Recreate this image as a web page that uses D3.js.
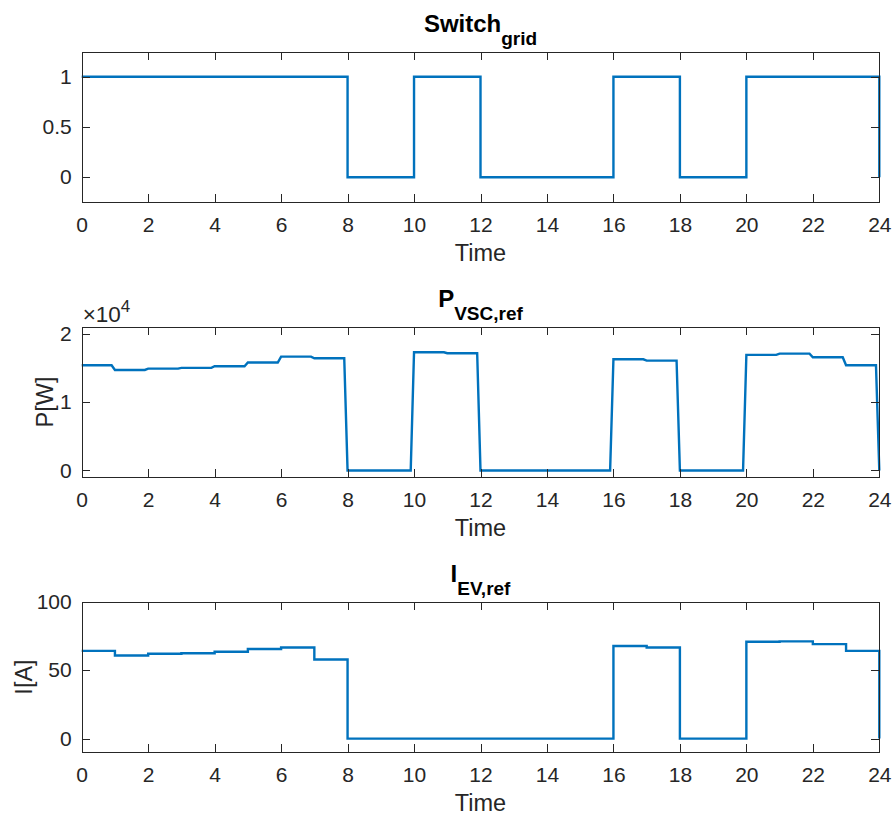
<!DOCTYPE html>
<html>
<head>
<meta charset="utf-8">
<script src="https://cdn.jsdelivr.net/npm/d3@7"></script>
<style>
  html, body { margin: 0; padding: 0; background: #fff; }
  svg { display: block; font-family: "Liberation Sans", Arial, Helvetica, sans-serif; }
</style>
</head>
<body>
<svg id="chart" width="893" height="815"></svg>
<script>
// ---------- data (hourly values, hour 0..23) ----------
const hours = d3.range(0, 24);
const xTicks = d3.range(0, 25, 2);

const switchGrid = [1,1,1,1,1,1,1,1, 0,0, 1,1, 0,0,0,0, 1,1, 0,0, 1,1,1,1];
const switchEnd = 0;

const pVscRef = [15370,14680,14880,14980,15220,15760,16630,16390,
                 0,0, 17270,17120, 0,0,0,0, 16240,16050, 0,0,
                 16880,17070,16540,15370];
const pEnd = 0;
const sampleStep = 0.1; // simulation sample interval (h)

const iEvRef = [64.1,60.7,62.0,62.4,63.4,65.4,66.6,57.8,
                0,0,0,0,0,0,0,0, 67.6,66.6, 0,0,
                70.7,71.0,69.0,64.1];
const iEnd = 0;

const switchYTicks = [0, 0.5, 1];
const pYTicks = [0, 10000, 20000];
const iYTicks = [0, 50, 100];

// ---------- layout ----------
const svg = d3.select("#chart");
const left = 81.7, right = 879.3;
const axH = 150.6;
const tops = [51.7, 326.7, 601.7];
const blue = "#0072BD";
const axisColor = "#262626";
const tickFont = 21, labelFont = 23.5, titleFont = 24, subFont = 19;

function panel(opts) {
  const top = opts.top, bottom = top + axH;
  const x = d3.scaleLinear().domain([0, 24]).range([left, right]);
  const y = d3.scaleLinear().domain(opts.yDomain).range([bottom, top]);
  const g = svg.append("g");

  // line
  const line = d3.line().x(d => x(d[0])).y(d => y(d[1])).curve(opts.curve);
  g.append("path").datum(opts.points)
    .attr("fill", "none").attr("stroke", blue).attr("stroke-width", 2.4)
    .attr("stroke-linejoin", "miter")
    .attr("d", line);

  // axes (ticks inward, box)
  const tl = 8;
  const bottomAxis = d3.axisBottom(x).tickValues(xTicks).tickSizeInner(-tl).tickSizeOuter(0).tickPadding(15);
  const topAxis = d3.axisTop(x).tickValues(xTicks).tickSizeInner(-tl).tickSizeOuter(0).tickFormat("");
  const leftAxis = d3.axisLeft(y).tickValues(opts.yTicks).tickSizeInner(-tl).tickSizeOuter(0).tickPadding(10)
    .tickFormat(opts.yFormat);
  const rightAxis = d3.axisRight(y).tickValues(opts.yTicks).tickSizeInner(-tl).tickSizeOuter(0).tickFormat("");

  const styleAxis = sel => {
    sel.selectAll("path.domain").attr("stroke", axisColor).attr("stroke-width", 1).attr("shape-rendering", "crispEdges");
    sel.selectAll(".tick line").attr("stroke", axisColor).attr("stroke-width", 1).attr("shape-rendering", "crispEdges");
    sel.selectAll(".tick text").attr("fill", axisColor).style("font-size", tickFont + "px")
      .style("font-family", '"Liberation Sans", Arial, sans-serif');
  };
  g.append("g").attr("transform", `translate(0,${bottom})`).call(bottomAxis).call(styleAxis);
  g.append("g").attr("transform", `translate(0,${top})`).call(topAxis).call(styleAxis);
  g.append("g").attr("transform", `translate(${left},0)`).call(leftAxis).call(styleAxis);
  g.append("g").attr("transform", `translate(${right},0)`).call(rightAxis).call(styleAxis);

  // title with subscript
  const t = g.append("text")
    .attr("x", (left + right) / 2).attr("y", top - 20)
    .attr("text-anchor", "middle").attr("fill", "#000")
    .style("font-weight", "bold").style("font-size", titleFont + "px");
  t.append("tspan").text(opts.title);
  t.append("tspan").attr("dy", 13).style("font-size", subFont + "px").text(opts.sub);

  // x label
  g.append("text").attr("x", (left + right) / 2).attr("y", bottom + 59)
    .attr("text-anchor", "middle").attr("fill", axisColor).style("font-size", labelFont + "px")
    .text("Time");

  // y label
  if (opts.ylabel) {
    g.append("text")
      .attr("transform", `translate(${opts.ylabelX},${(top + bottom) / 2}) rotate(-90)`)
      .attr("text-anchor", "middle").attr("fill", axisColor).style("font-size", labelFont + "px")
      .text(opts.ylabel);
  }
  return {g, x, y, top, bottom};
}

// step points: value held over each hour, final drop at 24
const stepPoints = (vals, endVal) => hours.map((h, i) => [h, vals[i]]).concat([[24, endVal]]);
// sampled points: value held from h to h+1-step, linear transition over one sample
const sampledPoints = (vals, endVal) => {
  const pts = [];
  hours.forEach((h, i) => { pts.push([h, vals[i]]); pts.push([h + 1 - sampleStep, vals[i]]); });
  pts.push([24, endVal]);
  return pts;
};

panel({
  top: tops[0], yDomain: [-0.25, 1.25], yTicks: switchYTicks,
  yFormat: d => d3.format("")(d),
  points: stepPoints(switchGrid, switchEnd), curve: d3.curveStepAfter,
  title: "Switch", sub: "grid"
});

const p2 = panel({
  top: tops[1], yDomain: [-1000, 21000], yTicks: pYTicks,
  yFormat: d => d3.format("")(d / 10000),
  points: sampledPoints(pVscRef, pEnd), curve: d3.curveLinear,
  title: "P", sub: "VSC,ref", ylabel: "P[W]", ylabelX: 53
});
// exponent marker
const ex = p2.g.append("text").attr("x", left + 1).attr("y", p2.top - 5)
  .attr("fill", axisColor).style("font-size", "22.5px");
ex.append("tspan").text("\u00d710");
ex.append("tspan").attr("dy", -10).style("font-size", "17px").text("4");

panel({
  top: tops[2], yDomain: [-10, 100], yTicks: iYTicks,
  yFormat: d => d3.format("")(d),
  points: stepPoints(iEvRef, iEnd), curve: d3.curveStepAfter,
  title: "I", sub: "EV,ref", ylabel: "I[A]", ylabelX: 32
});
</script>
</body>
</html>
